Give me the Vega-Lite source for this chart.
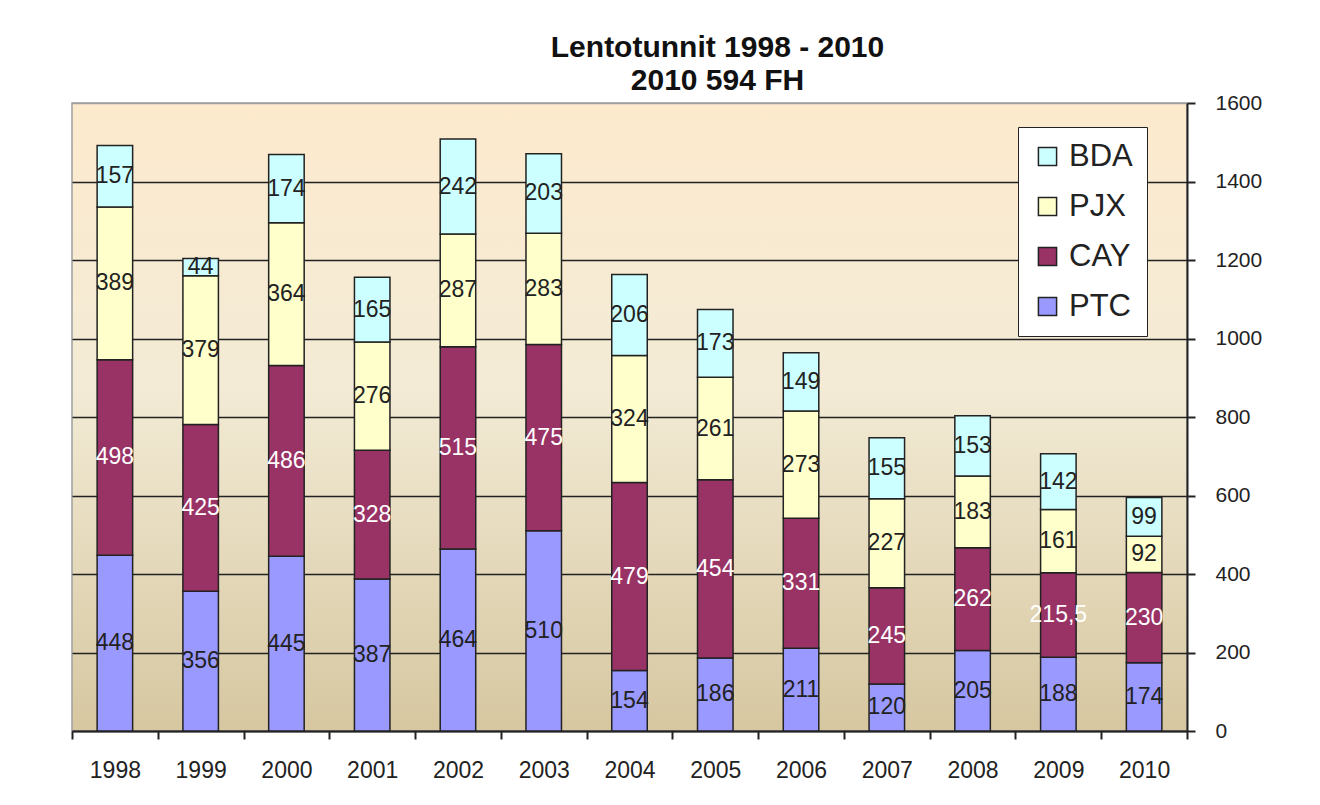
{
  "$schema": "https://vega.github.io/schema/vega-lite/v6.json",
  "width": 1115,
  "height": 628,
  "autosize": "none",
  "padding": {"left": 72, "top": 103, "right": 133, "bottom": 74},
  "background": "white",
  "config": {
    "locale": {"number": {"decimal": ",", "thousands": " ", "grouping": [3], "currency": ["", " €"]}},
    "font": "Liberation Sans",
    "view": {
      "stroke": "#a0a0a0",
      "strokeWidth": 1.5,
      "fill": {
        "gradient": "linear", "x1": 0, "y1": 0, "x2": 0, "y2": 1,
        "stops": [
          {"offset": 0, "color": "#fdeacd"},
          {"offset": 0.45, "color": "#f3ebd6"},
          {"offset": 1, "color": "#d6c7a0"}
        ]
      }
    }
  },
  "title": {
    "text": ["Lentotunnit 1998 - 2010", "2010 594 FH"],
    "fontSize": 30,
    "fontWeight": "bold",
    "color": "#111",
    "anchor": "middle",
    "frame": "group",
    "dx": 88,
    "offset": -4,
    "lineHeight": 33
  },
  "data": {
    "values": [
      {"year": "1998", "series": "PTC", "ord": 1, "hours": 448},
      {"year": "1998", "series": "CAY", "ord": 2, "hours": 498},
      {"year": "1998", "series": "PJX", "ord": 3, "hours": 389},
      {"year": "1998", "series": "BDA", "ord": 4, "hours": 157},
      {"year": "1999", "series": "PTC", "ord": 1, "hours": 356},
      {"year": "1999", "series": "CAY", "ord": 2, "hours": 425},
      {"year": "1999", "series": "PJX", "ord": 3, "hours": 379},
      {"year": "1999", "series": "BDA", "ord": 4, "hours": 44},
      {"year": "2000", "series": "PTC", "ord": 1, "hours": 445},
      {"year": "2000", "series": "CAY", "ord": 2, "hours": 486},
      {"year": "2000", "series": "PJX", "ord": 3, "hours": 364},
      {"year": "2000", "series": "BDA", "ord": 4, "hours": 174},
      {"year": "2001", "series": "PTC", "ord": 1, "hours": 387},
      {"year": "2001", "series": "CAY", "ord": 2, "hours": 328},
      {"year": "2001", "series": "PJX", "ord": 3, "hours": 276},
      {"year": "2001", "series": "BDA", "ord": 4, "hours": 165},
      {"year": "2002", "series": "PTC", "ord": 1, "hours": 464},
      {"year": "2002", "series": "CAY", "ord": 2, "hours": 515},
      {"year": "2002", "series": "PJX", "ord": 3, "hours": 287},
      {"year": "2002", "series": "BDA", "ord": 4, "hours": 242},
      {"year": "2003", "series": "PTC", "ord": 1, "hours": 510},
      {"year": "2003", "series": "CAY", "ord": 2, "hours": 475},
      {"year": "2003", "series": "PJX", "ord": 3, "hours": 283},
      {"year": "2003", "series": "BDA", "ord": 4, "hours": 203},
      {"year": "2004", "series": "PTC", "ord": 1, "hours": 154},
      {"year": "2004", "series": "CAY", "ord": 2, "hours": 479},
      {"year": "2004", "series": "PJX", "ord": 3, "hours": 324},
      {"year": "2004", "series": "BDA", "ord": 4, "hours": 206},
      {"year": "2005", "series": "PTC", "ord": 1, "hours": 186},
      {"year": "2005", "series": "CAY", "ord": 2, "hours": 454},
      {"year": "2005", "series": "PJX", "ord": 3, "hours": 261},
      {"year": "2005", "series": "BDA", "ord": 4, "hours": 173},
      {"year": "2006", "series": "PTC", "ord": 1, "hours": 211},
      {"year": "2006", "series": "CAY", "ord": 2, "hours": 331},
      {"year": "2006", "series": "PJX", "ord": 3, "hours": 273},
      {"year": "2006", "series": "BDA", "ord": 4, "hours": 149},
      {"year": "2007", "series": "PTC", "ord": 1, "hours": 120},
      {"year": "2007", "series": "CAY", "ord": 2, "hours": 245},
      {"year": "2007", "series": "PJX", "ord": 3, "hours": 227},
      {"year": "2007", "series": "BDA", "ord": 4, "hours": 155},
      {"year": "2008", "series": "PTC", "ord": 1, "hours": 205},
      {"year": "2008", "series": "CAY", "ord": 2, "hours": 262},
      {"year": "2008", "series": "PJX", "ord": 3, "hours": 183},
      {"year": "2008", "series": "BDA", "ord": 4, "hours": 153},
      {"year": "2009", "series": "PTC", "ord": 1, "hours": 188},
      {"year": "2009", "series": "CAY", "ord": 2, "hours": 215.5},
      {"year": "2009", "series": "PJX", "ord": 3, "hours": 161},
      {"year": "2009", "series": "BDA", "ord": 4, "hours": 142},
      {"year": "2010", "series": "PTC", "ord": 1, "hours": 174},
      {"year": "2010", "series": "CAY", "ord": 2, "hours": 230},
      {"year": "2010", "series": "PJX", "ord": 3, "hours": 92},
      {"year": "2010", "series": "BDA", "ord": 4, "hours": 99}
    ]
  },
  "transform": [
    {"stack": "hours", "groupby": ["year"], "sort": [{"field": "ord", "order": "ascending"}], "as": ["y0", "y1"]},
    {"calculate": "(datum.y0 + datum.y1) / 2", "as": "ymid"}
  ],
  "layer": [
    {
      "mark": {"type": "bar", "stroke": "#222", "strokeWidth": 1.5, "width": {"band": 0.414}},
      "encoding": {
        "x": {
          "field": "year", "type": "ordinal",
          "scale": {"paddingInner": 0, "paddingOuter": 0},
          "axis": {
            "title": null, "labelAngle": 0, "tickBand": "extent", "grid": false,
            "domainColor": "#222", "domainWidth": 2,
            "tickColor": "#222", "tickWidth": 2, "tickSize": 8,
            "labelFontSize": 23, "labelColor": "#222", "labelPadding": 20
          }
        },
        "y": {
          "field": "y0", "type": "quantitative",
          "scale": {"domain": [0, 1600], "nice": false},
          "axis": {
            "orient": "right", "title": null,
            "values": [0, 200, 400, 600, 800, 1000, 1200, 1400, 1600],
            "format": "d", "grid": true,
            "gridColor": {"condition": {"test": "datum.value === 1600", "value": "#a0a0a0"}, "value": "#222"},
            "gridWidth": 1.5,
            "domainColor": "#222", "domainWidth": 2,
            "tickColor": "#222", "tickWidth": 2, "tickSize": 8,
            "labelFontSize": 21, "labelColor": "#222", "labelPadding": 20
          }
        },
        "y2": {"field": "y1"},
        "color": {
          "field": "series", "type": "nominal",
          "scale": {"domain": ["BDA", "PJX", "CAY", "PTC"], "range": ["#ccffff", "#ffffcc", "#993366", "#9999ff"]},
          "legend": {
            "title": null, "orient": "none", "legendX": 946, "legendY": 24,
            "symbolType": "square", "symbolSize": 330,
            "symbolStrokeColor": "#222", "symbolStrokeWidth": 1.5,
            "labelFontSize": 31, "labelColor": "#222", "labelOffset": 6,
            "rowPadding": 18, "padding": 14,
            "fillColor": "white", "strokeColor": "#222"
          }
        }
      }
    },
    {
      "mark": {"type": "text", "fontSize": 23, "baseline": "middle", "align": "center"},
      "encoding": {
        "x": {"field": "year", "type": "ordinal"},
        "y": {"field": "ymid", "type": "quantitative"},
        "text": {"field": "hours", "type": "quantitative", "format": "~g"},
        "color": {"condition": {"test": "datum.series === 'CAY'", "value": "white"}, "value": "#222"}
      }
    }
  ]
}
